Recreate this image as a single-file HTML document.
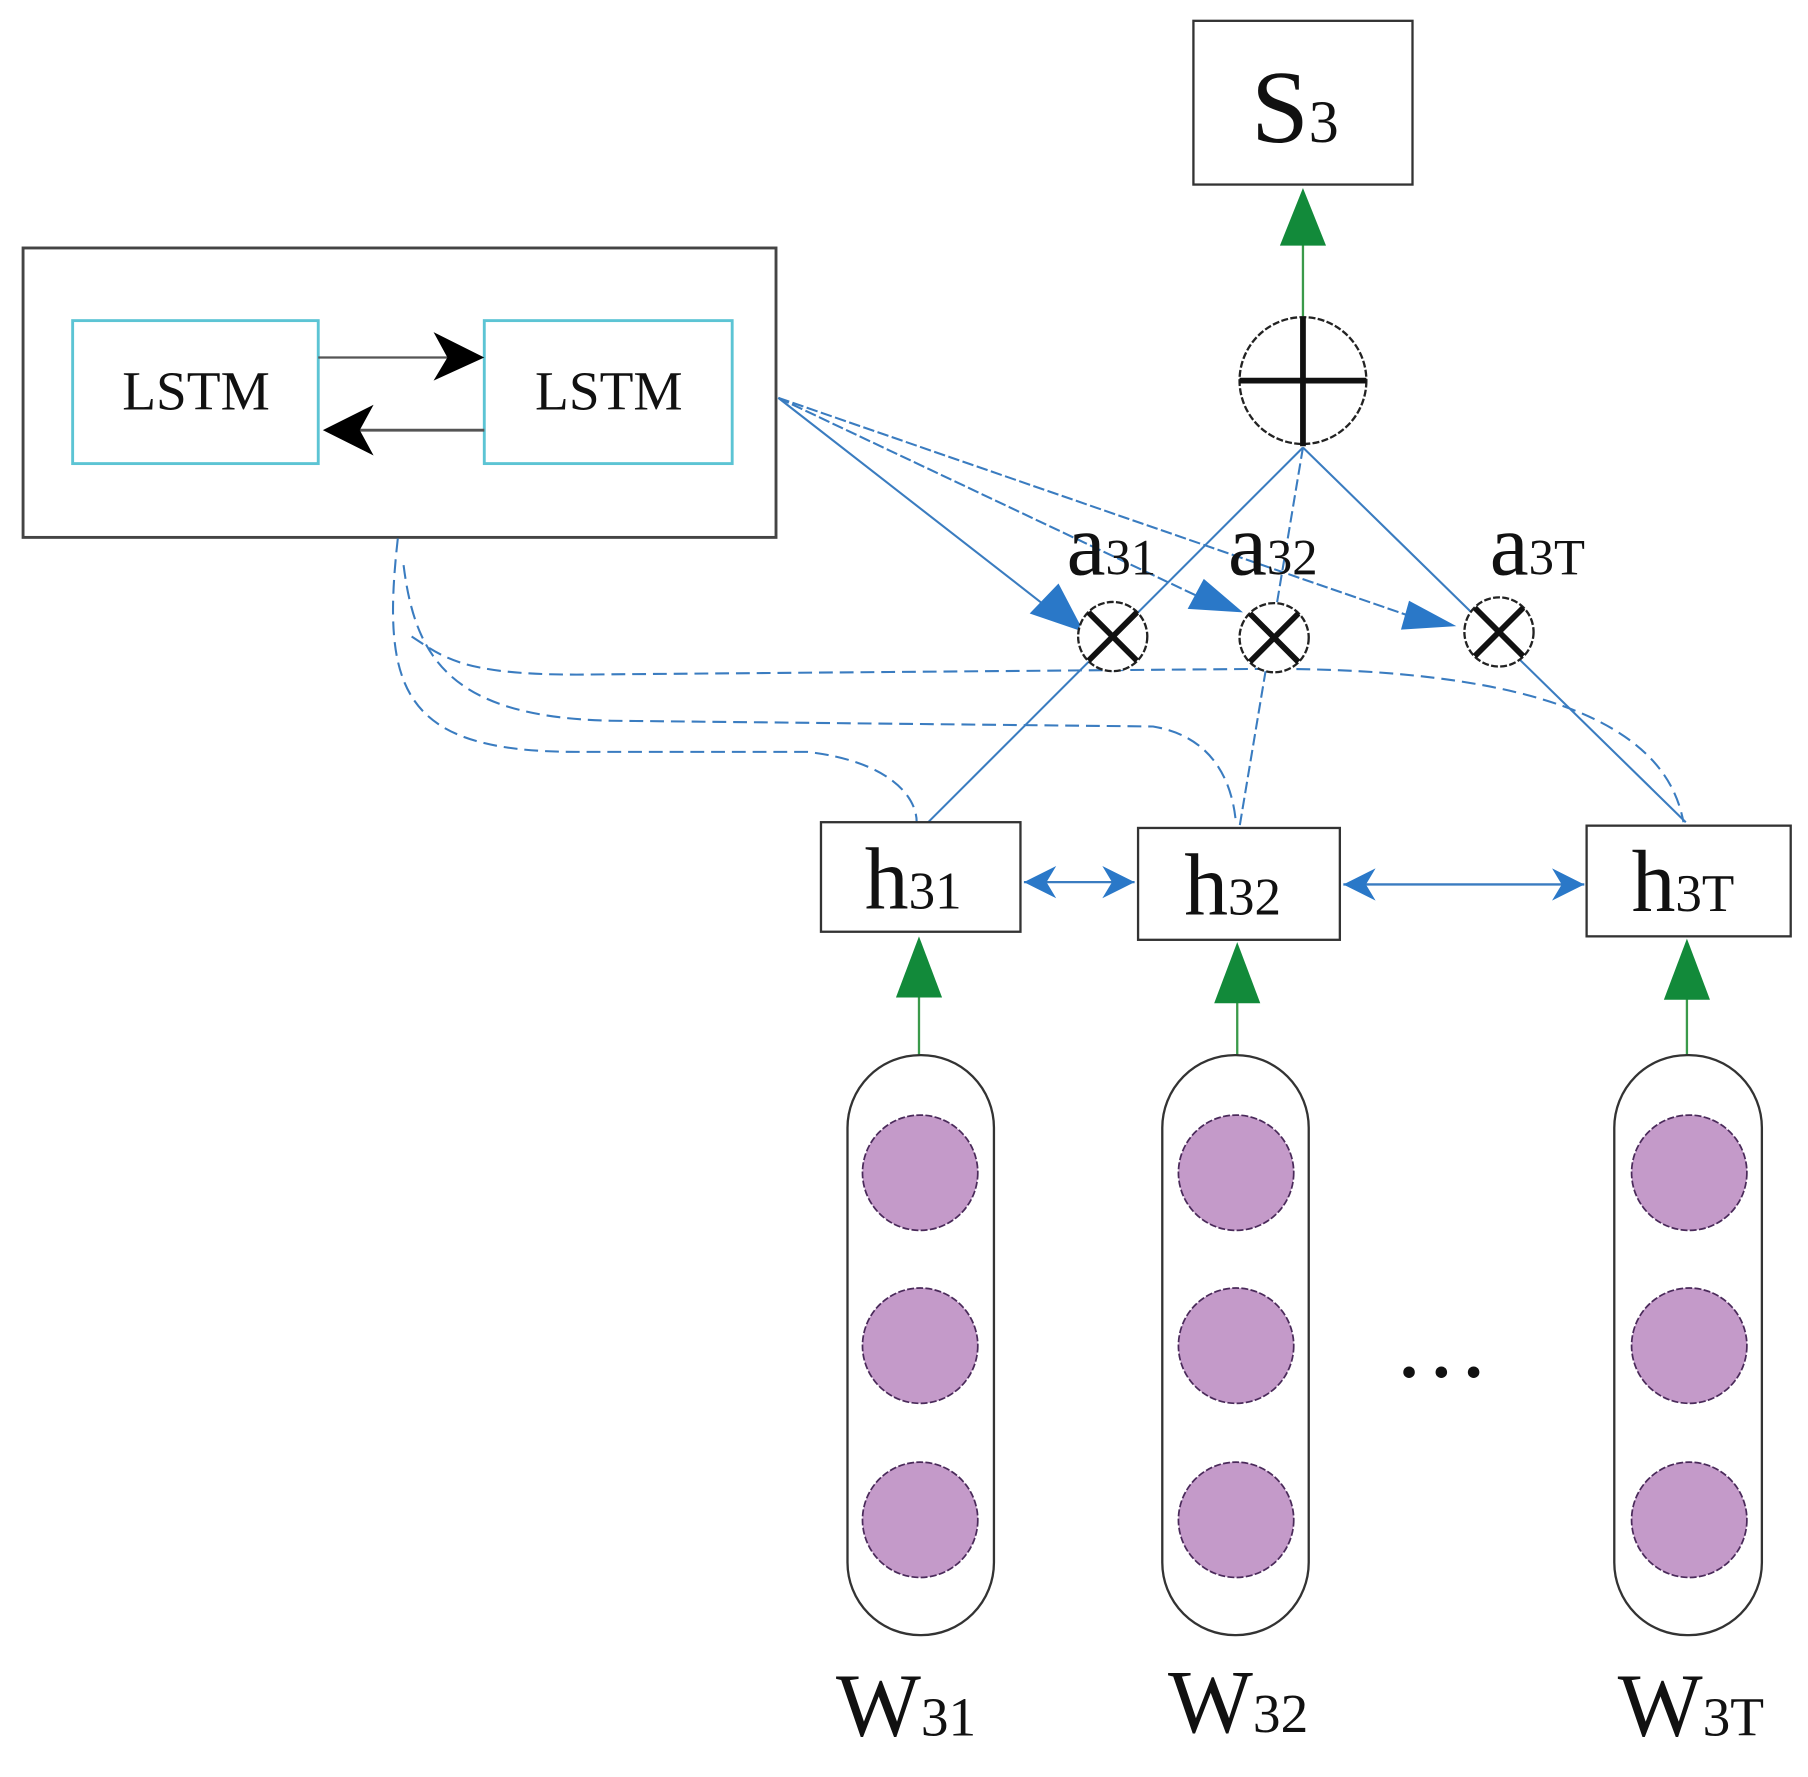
<!DOCTYPE html>
<html><head><meta charset="utf-8"><style>html,body{margin:0;padding:0;background:#fff}svg{display:block}text{font-family:"Liberation Serif",serif;fill:#111}</style></head>
<body>
<svg width="1808" height="1777" viewBox="0 0 1568 1541" xmlns="http://www.w3.org/2000/svg">
<defs>
<marker id="bl" viewBox="0 0 10 10" refX="10" refY="5" markerWidth="30" markerHeight="28" orient="auto-start-reverse" markerUnits="userSpaceOnUse"><path d="M0,0 L10,5 L0,10 L3,5 z" fill="#2a78c8"/></marker>
</defs>
<rect x="1035" y="18" width="190" height="142" fill="#fff" stroke="#333" stroke-width="2"/>
<text x="1085" y="123" font-size="90">S<tspan font-size="52">3</tspan></text>
<line x1="1130" y1="275" x2="1130" y2="205" stroke="#3a9a4a" stroke-width="2"/>
<path d="M1130,163 L1150,213 L1110,213 z" fill="#128a3a"/>
<circle cx="1130" cy="330" r="55" fill="#fff" stroke="#222" stroke-width="2" stroke-dasharray="6,2"/>
<line x1="1130" y1="275" x2="1130" y2="387" stroke="#111" stroke-width="5"/>
<line x1="1075" y1="330" x2="1185" y2="330" stroke="#111" stroke-width="5"/>
<rect x="20" y="215" width="653" height="251" fill="none" stroke="#444" stroke-width="2.5"/>
<rect x="63" y="278" width="213" height="124" fill="none" stroke="#5cc4d4" stroke-width="2.5"/>
<rect x="420" y="278" width="215" height="124" fill="none" stroke="#5cc4d4" stroke-width="2.5"/>
<text x="170" y="355" font-size="48" text-anchor="middle">LSTM</text>
<text x="528" y="355" font-size="48" text-anchor="middle">LSTM</text>
<line x1="276" y1="310" x2="390" y2="310" stroke="#555" stroke-width="2"/>
<path d="M420,310 L376,288 L388,310 L376,330 z" fill="#000"/>
<line x1="420" y1="373" x2="310" y2="373" stroke="#555" stroke-width="2.5"/>
<path d="M280,373 L324,351 L312,373 L324,395 z" fill="#000"/>
<g stroke="#3a7cc0" stroke-width="1.8" fill="none">
<line x1="675" y1="345" x2="910" y2="528"/>
<line x1="675" y1="345" x2="1045" y2="520" stroke-dasharray="10,3"/>
<line x1="675" y1="345" x2="1225" y2="535" stroke-dasharray="10,3"/>
<line x1="1130" y1="388" x2="805" y2="713"/>
<line x1="1130" y1="388" x2="1075" y2="717" stroke-dasharray="10,4"/>
<line x1="1130" y1="388" x2="1462" y2="713"/>
</g>
<path d="M940,548 L893,532 L918,506 z" fill="#2a78c8"/>
<path d="M1078,531 L1030,528 L1044,502 z" fill="#2a78c8"/>
<path d="M1263,543 L1215,546 L1222,521 z" fill="#2a78c8"/>
<g stroke="#3a7cc0" stroke-width="1.8" fill="none" stroke-dasharray="12,6">
<path d="M345,467 C330,600 350,652 500,652 L700,652 C770,660 795,690 795,713"/>
<path d="M350,490 C360,570 390,622 530,625 L1000,630 C1060,640 1070,690 1072,715"/>
<path d="M357,552 C385,570 400,585 500,585 L1100,580 C1400,580 1450,660 1460,713"/>
</g>
<g fill="#fff" stroke="#222" stroke-width="2" stroke-dasharray="6,2">
<circle cx="965" cy="552" r="30"/><circle cx="1105" cy="553" r="30"/><circle cx="1300" cy="548" r="30"/>
</g>
<g stroke="#111" stroke-width="5">
<line x1="944" y1="531" x2="986" y2="573"/><line x1="986" y1="531" x2="944" y2="573"/>
<line x1="1084" y1="532" x2="1126" y2="574"/><line x1="1126" y1="532" x2="1084" y2="574"/>
<line x1="1279" y1="527" x2="1321" y2="569"/><line x1="1321" y1="527" x2="1279" y2="569"/>
</g>
<text x="925" y="498" font-size="76">a<tspan font-size="44">31</tspan></text>
<text x="1065" y="498" font-size="76">a<tspan font-size="44">32</tspan></text>
<text x="1292" y="498" font-size="76">a<tspan font-size="44">3T</tspan></text>
<g fill="#fff" stroke="#333" stroke-width="2">
<rect x="712" y="713" width="173" height="95"/>
<rect x="987" y="718" width="175" height="97"/>
<rect x="1376" y="716" width="177" height="96"/>
</g>
<text x="750" y="788" font-size="76">h<tspan font-size="46">31</tspan></text>
<text x="1027" y="793" font-size="76">h<tspan font-size="46">32</tspan></text>
<text x="1415" y="790" font-size="76">h<tspan font-size="46">3T</tspan></text>
<line x1="888" y1="765" x2="984" y2="765" stroke="#3a7cc0" stroke-width="2" marker-start="url(#bl)" marker-end="url(#bl)"/>
<line x1="1165" y1="767" x2="1374" y2="767" stroke="#3a7cc0" stroke-width="2" marker-start="url(#bl)" marker-end="url(#bl)"/>
<g stroke="#3a9a4a" stroke-width="2">
<line x1="797" y1="915" x2="797" y2="860"/><line x1="1073" y1="915" x2="1073" y2="865"/><line x1="1463" y1="915" x2="1463" y2="862"/>
</g>
<g fill="#128a3a">
<path d="M797,812 L817,865 L777,865 z"/><path d="M1073,817 L1093,870 L1053,870 z"/><path d="M1463,814 L1483,867 L1443,867 z"/>
</g>
<g fill="none" stroke="#333" stroke-width="2">
<rect x="735" y="915" width="127" height="503" rx="63"/>
<rect x="1008" y="915" width="127" height="503" rx="63"/>
<rect x="1400" y="915" width="128" height="503" rx="63"/>
</g>
<g fill="#c49ac9" stroke="#4a2a5a" stroke-width="1.5" stroke-dasharray="6,2">
<circle cx="798" cy="1017" r="50"/><circle cx="798" cy="1167" r="50"/><circle cx="798" cy="1318" r="50"/>
<circle cx="1072" cy="1017" r="50"/><circle cx="1072" cy="1167" r="50"/><circle cx="1072" cy="1318" r="50"/>
<circle cx="1465" cy="1017" r="50"/><circle cx="1465" cy="1167" r="50"/><circle cx="1465" cy="1318" r="50"/>
</g>
<g fill="#111"><circle cx="1222" cy="1190" r="5"/><circle cx="1250" cy="1190" r="5"/><circle cx="1278" cy="1190" r="5"/></g>
<text x="725" y="1505" font-size="78">W<tspan font-size="48">31</tspan></text>
<text x="1013" y="1502" font-size="78">W<tspan font-size="48">32</tspan></text>
<text x="1403" y="1505" font-size="78">W<tspan font-size="48">3T</tspan></text>
</svg>
</body></html>
